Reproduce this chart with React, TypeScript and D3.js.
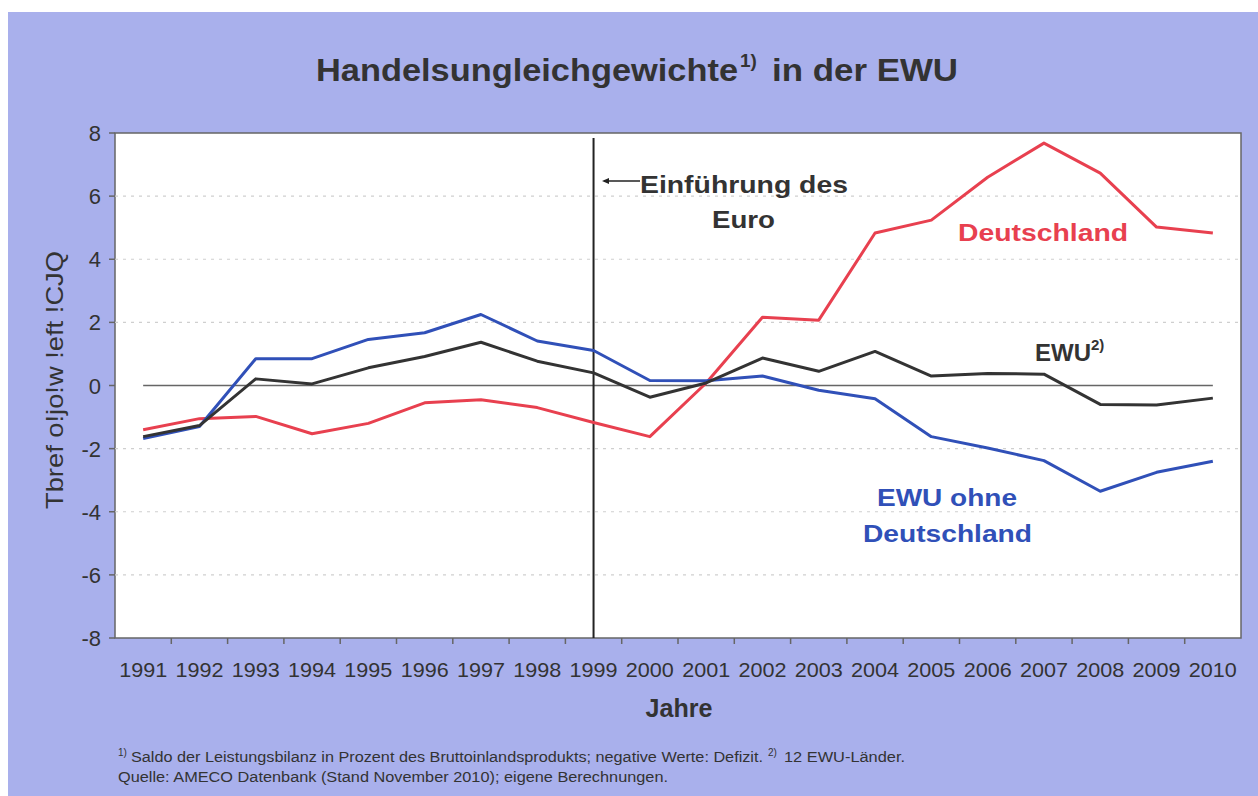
import React from "react";
import * as d3 from "d3";

const years = ["1991","1992","1993","1994","1995","1996","1997","1998","1999","2000","2001","2002","2003","2004","2005","2006","2007","2008","2009","2010"];
const deutschland = [-1.4,-1.05,-0.98,-1.53,-1.2,-0.55,-0.45,-0.7,-1.17,-1.62,0.08,2.16,2.07,4.83,5.24,6.6,7.68,6.73,5.02,4.83];
const ewu = [-1.62,-1.27,0.21,0.05,0.56,0.92,1.37,0.77,0.4,-0.37,0.08,0.87,0.45,1.08,0.3,0.38,0.36,-0.6,-0.62,-0.4];
const ewuOhne = [-1.68,-1.3,0.85,0.85,1.46,1.67,2.25,1.41,1.11,0.16,0.15,0.3,-0.15,-0.42,-1.62,-1.98,-2.38,-3.35,-2.75,-2.4];
const yTicks = [-8,-6,-4,-2,0,2,4,6,8];

const W = 1258, H = 796;
const L = 115, R = 1241, T = 133, B = 638;
const FONT = "'Liberation Sans', Arial, sans-serif";

export default function App() {
  const x = d3.scaleBand<string>().domain(years).range([L, R]);
  const xc = (i: number) => (x(years[i]) as number) + x.bandwidth() / 2;
  const y = d3.scaleLinear().domain([-8, 8]).range([B, T]);
  const line = (vals: number[]) =>
    d3.line<number>().x((_, i) => xc(i)).y((v) => y(v))(vals) as string;
  const x1999 = xc(years.indexOf("1999"));
  const text = "#333333";

  return (
    <svg width={W} height={H} style={{ position: "absolute", left: 0, top: 0 }} fontFamily={FONT}>
      <rect x={0} y={0} width={W} height={H} fill="#ffffff" />
      <rect x={8} y={12} width={W - 8} height={H - 12} fill="#a9b0ec" />
      <g fontWeight="bold" fill={text}>
        <text x={316} y={81} fontSize={32} textLength={422} lengthAdjust="spacingAndGlyphs">Handelsungleichgewichte</text>
        <text x={740} y={67} fontSize={19}>1)</text>
        <text x={772} y={81} fontSize={32} textLength={186} lengthAdjust="spacingAndGlyphs">in der EWU</text>
      </g>
      <rect x={L} y={T} width={R - L} height={B - T} fill="#ffffff" stroke="#666" strokeWidth={1.5} />
      {yTicks.filter((t) => t !== 0 && t !== 8 && t !== -8).map((t) => (
        <line key={"g" + t} x1={L} x2={R} y1={y(t)} y2={y(t)} stroke="#cfcfcf" strokeWidth={1.2} strokeDasharray="3,5" />
      ))}
      <line x1={xc(0)} x2={xc(years.length - 1)} y1={y(0)} y2={y(0)} stroke="#666" strokeWidth={1.5} />
      {yTicks.map((t) => (
        <g key={"t" + t}>
          <line x1={L - 6} x2={L} y1={y(t)} y2={y(t)} stroke="#666" strokeWidth={1.5} />
          <text x={L - 14} y={y(t) + 8} textAnchor="end" fontSize={22} fill={text}>{t}</text>
        </g>
      ))}
      {years.map((yr, i) => (
        <g key={yr}>
          {i > 0 && <line x1={x(yr) as number} x2={x(yr) as number} y1={B} y2={B + 6} stroke="#666" strokeWidth={1.5} />}
          <text x={xc(i)} y={B + 39} textAnchor="middle" fontSize={21} fill={text} textLength={48} lengthAdjust="spacingAndGlyphs">{yr}</text>
        </g>
      ))}
      <line x1={x1999} x2={x1999} y1={T + 5} y2={B} stroke="#222" strokeWidth={2} />
      <path d={line(deutschland)} fill="none" stroke="#e8404f" strokeWidth={3} strokeLinejoin="round" />
      <path d={line(ewuOhne)} fill="none" stroke="#3050b8" strokeWidth={3} strokeLinejoin="round" />
      <path d={line(ewu)} fill="none" stroke="#333333" strokeWidth={3} strokeLinejoin="round" />
      <line x1={604} x2={640} y1={181} y2={181} stroke="#222" strokeWidth={1.5} />
      <path d="M602,181 L609,178 L609,184 Z" fill="#222" />
      <text x={640} y={193} fontSize={24} fontWeight="bold" fill={text} textLength={208} lengthAdjust="spacingAndGlyphs">Einführung des</text>
      <text x={712} y={228} fontSize={24} fontWeight="bold" fill={text} textLength={63} lengthAdjust="spacingAndGlyphs">Euro</text>
      <text x={958} y={241} fontSize={24} fontWeight="bold" fill="#e8404f" textLength={170} lengthAdjust="spacingAndGlyphs">Deutschland</text>
      <text x={1035} y={361} fontSize={24} fontWeight="bold" fill={text}>
        EWU<tspan fontSize={15} dy={-11}>2)</tspan>
      </text>
      <text x={877} y={506} fontSize={24} fontWeight="bold" fill="#3050b8" textLength={140} lengthAdjust="spacingAndGlyphs">EWU ohne</text>
      <text x={863} y={542} fontSize={24} fontWeight="bold" fill="#3050b8" textLength={169} lengthAdjust="spacingAndGlyphs">Deutschland</text>
      <text transform={`translate(63,380) rotate(-90)`} textAnchor="middle" fontSize={24} fill={text} textLength={258} lengthAdjust="spacingAndGlyphs">Tbref o!jo!w !eft !CJQ</text>
      <text x={679} y={717} textAnchor="middle" fontSize={25} fontWeight="bold" fill={text} textLength={67} lengthAdjust="spacingAndGlyphs">Jahre</text>
      <g fill={text}>
        <text x={118} y={756} fontSize={10}>1)</text>
        <text x={131} y={762} fontSize={14} textLength={632} lengthAdjust="spacingAndGlyphs">Saldo der Leistungsbilanz in Prozent des Bruttoinlandsprodukts; negative Werte: Defizit.</text>
        <text x={768} y={756} fontSize={10}>2)</text>
        <text x={784} y={762} fontSize={14} textLength={121} lengthAdjust="spacingAndGlyphs">12 EWU-Länder.</text>
        <text x={118} y={782} fontSize={14} textLength={550} lengthAdjust="spacingAndGlyphs">Quelle: AMECO Datenbank (Stand November 2010); eigene Berechnungen.</text>
      </g>
    </svg>
  );
}
